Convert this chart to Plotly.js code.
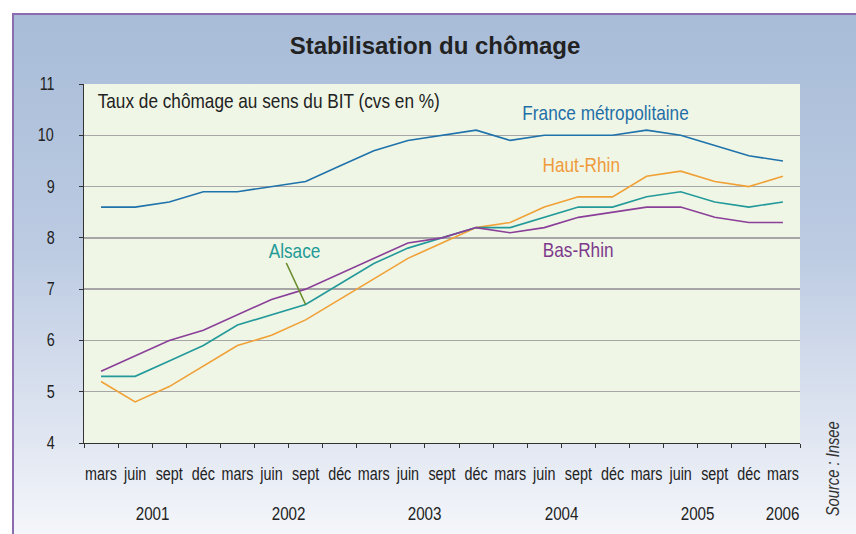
<!DOCTYPE html>
<html>
<head>
<meta charset="utf-8">
<script src="https://cdn.plot.ly/plotly-3.0.1.min.js"></script>
<style>
  html, body { margin: 0; padding: 0; background: #ffffff; }
  #wrap { position: relative; width: 856px; height: 534px; overflow: hidden; }
  #bg { position: absolute; left: 12px; top: 13px; width: 844px; height: 521px;
        background: linear-gradient(to bottom, #a8bcd8 0%, #bccbe2 45%, #dfe5f1 80%, #f4f6fa 100%);
        border-top: 2px solid #8c6cb0; border-left: 2px solid #8c6cb0; box-sizing: border-box; }
  #chart { position: absolute; left: 0; top: 0; width: 856px; height: 534px; }
</style>
</head>
<body>
<div id="wrap"><div id="bg"></div><div id="chart"></div></div>
<script>
// ---- data ----
const months = ['mars','juin','sept','déc','mars','juin','sept','déc','mars','juin','sept','déc',
                'mars','juin','sept','déc','mars','juin','sept','déc','mars'];
const quarterYears = ['2001','2001','2001','2001','2002','2002','2002','2002','2003','2003','2003','2003',
                      '2004','2004','2004','2004','2005','2005','2005','2005','2006'];
const france   = [8.6, 8.6, 8.7, 8.9, 8.9, 9.0, 9.1, 9.4, 9.7, 9.9, 10.0, 10.1, 9.9, 10.0, 10.0, 10.0, 10.1, 10.0, 9.8, 9.6, 9.5];
const hautRhin = [5.2, 4.8, 5.1, 5.5, 5.9, 6.1, 6.4, 6.8, 7.2, 7.6, 7.9, 8.2, 8.3, 8.6, 8.8, 8.8, 9.2, 9.3, 9.1, 9.0, 9.2];
const alsace   = [5.3, 5.3, 5.6, 5.9, 6.3, 6.5, 6.7, 7.1, 7.5, 7.8, 8.0, 8.2, 8.2, 8.4, 8.6, 8.6, 8.8, 8.9, 8.7, 8.6, 8.7];
const basRhin  = [5.4, 5.7, 6.0, 6.2, 6.5, 6.8, 7.0, 7.3, 7.6, 7.9, 8.0, 8.2, 8.1, 8.2, 8.4, 8.5, 8.6, 8.6, 8.4, 8.3, 8.3];
const seriesNames = ['France métropolitaine', 'Haut-Rhin', 'Alsace', 'Bas-Rhin'];
const yTicks = [4, 5, 6, 7, 8, 9, 10, 11];

// ---- build ----
const cats = months.map((m, i) => m + ' ' + quarterYears[i]);
const colors = ['#1f72aa', '#f0a035', '#23999a', '#8a3f98'];
const labelColors = ['#1f6fa6', '#ef9a3a', '#239a96', '#7d3a8c'];
const allSeries = [france, hautRhin, alsace, basRhin];

const FONT = "'Liberation Sans', Arial, sans-serif";
const NARROW = 0.82; // horizontal condensing applied to the chart's texts

const traces = allSeries.map((s, k) => ({
  type: 'scatter', mode: 'lines', x: cats, y: s, name: seriesNames[k],
  line: { color: colors[k], width: 1.6 }, hoverinfo: 'x+y+name'
}));

// year labels centred on their quarters
const uniqYears = [...new Set(quarterYears)];
const yearAnn = uniqYears.map(yr => {
  const idx = quarterYears.map((q, i) => q === yr ? i : null).filter(v => v !== null);
  const c = idx.reduce((a, b) => a + b, 0) / idx.length;
  return { x: c, xref: 'x', y: -0.195, yref: 'paper', text: yr, showarrow: false,
           font: { family: FONT, size: 18.5, color: '#222' }, xanchor: 'center', yanchor: 'middle' };
});

// y tick labels, set further from the axis than Plotly's default
const yLabAnn = yTicks.map(v => ({
  x: -0.037, xref: 'paper', y: v, yref: 'y', text: String(v), showarrow: false,
  xanchor: 'right', yanchor: 'middle', font: { family: FONT, size: 17.5, color: '#222' }
}));

const annotations = [
  { x: 0.2577, xref: 'paper', y: 0.955, yref: 'paper', text: 'Taux de chômage au sens du BIT (cvs en %)',
    showarrow: false, xanchor: 'center', yanchor: 'middle', font: { family: FONT, size: 21, color: '#222' } },
  { x: 14.8, xref: 'x', y: 10.45, yref: 'y', text: seriesNames[0], showarrow: false,
    font: { family: FONT, size: 21, color: labelColors[0] } },
  { x: 14.1, xref: 'x', y: 9.44, yref: 'y', text: seriesNames[1], showarrow: false,
    font: { family: FONT, size: 21, color: labelColors[1] } },
  { x: 13.98, xref: 'x', y: 7.78, yref: 'y', text: seriesNames[3], showarrow: false,
    font: { family: FONT, size: 21, color: labelColors[3] } },
  { x: 5.67, xref: 'x', y: 7.76, yref: 'y', text: seriesNames[2], showarrow: false,
    font: { family: FONT, size: 21, color: labelColors[2] } },
  { x: 6, xref: 'x', y: alsace[6], yref: 'y', text: '', showarrow: true,
    ax: -20, ay: -43, arrowhead: 0, arrowwidth: 1.6, arrowcolor: '#6a8c2c', standoff: 0 },
  { x: 1.046, xref: 'paper', y: -0.072, yref: 'paper', text: '<i>Source : Insee</i>', textangle: -90,
    xanchor: 'center', yanchor: 'middle',
    showarrow: false, font: { family: FONT, size: 18, color: '#333' } }
].concat(yearAnn, yLabAnn);

const layout = {
  width: 856, height: 534,
  margin: { l: 84, r: 56, t: 84, b: 91, pad: 0 },
  paper_bgcolor: 'rgba(0,0,0,0)',
  plot_bgcolor: '#eff6e6',
  showlegend: false,
  title: { text: '<b>Stabilisation du chômage</b>', x: 435 / 856, xref: 'container', xanchor: 'center',
           y: 1 - 46 / 534, yref: 'container', yanchor: 'middle',
           font: { family: FONT, size: 24, color: '#222' } },
  xaxis: {
    type: 'category', tickmode: 'array', tickvals: cats, ticktext: months, tickson: 'boundaries',
    ticks: 'outside', ticklen: 4, tickcolor: '#333', showgrid: false, zeroline: false,
    showline: true, linecolor: '#333', linewidth: 1, tickangle: 0,
    range: [-0.5, 20.5], ticklabelstandoff: 15,
    tickfont: { family: FONT, size: 17.5, color: '#222' }
  },
  yaxis: {
    range: [4, 11], tickmode: 'array', tickvals: yTicks, ticks: 'outside', ticklen: 4, tickcolor: '#333',
    showticklabels: false,
    showgrid: true, gridcolor: '#a6a6a6', gridwidth: 1.5, zeroline: false,
    showline: true, linecolor: '#333', linewidth: 1
  },
  annotations: annotations
};

Plotly.newPlot('chart', traces, layout, { displayModeBar: false, staticPlot: true }).then(gd => {
  // condense texts horizontally (the original uses a narrow sans-serif), keeping each text's anchor
  gd.querySelectorAll('text').forEach(t => {
    if (t.closest('.g-gtitle')) return;
    const x = parseFloat(t.getAttribute('x')) || 0;
    const tr = t.getAttribute('transform') || '';
    t.setAttribute('transform', (tr + ' translate(' + x + ',0) scale(' + NARROW + ',1) translate(' + (-x) + ',0)').trim());
  });
});
</script>
</body>
</html>
